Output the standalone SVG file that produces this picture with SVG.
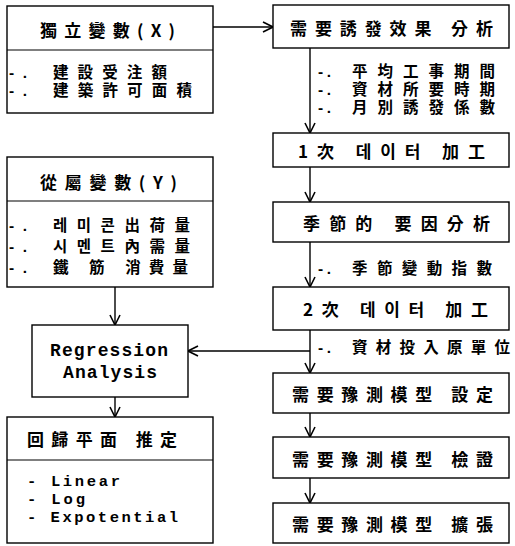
<svg xmlns="http://www.w3.org/2000/svg" width="515" height="546" viewBox="0 0 515 546">
<defs>
<style>
.box{fill:#fff;stroke:#000;stroke-width:1.4}
.div{stroke:#000;stroke-width:1.2}
.ln{fill:none;stroke:#000;stroke-width:1.4}
.cjk{font-family:"Noto Sans CJK KR","Noto Sans CJK TC",sans-serif;font-size:17px;font-weight:bold;fill:#000;dominant-baseline:central}
.item{font-family:"Liberation Sans","Noto Sans CJK KR","Noto Sans CJK TC",sans-serif;font-size:15.5px;font-weight:bold;fill:#000;dominant-baseline:central}
.mono{font-family:"Liberation Mono","DejaVu Sans Mono",monospace;font-size:18px;font-weight:bold;fill:#000;dominant-baseline:central}
.mono-s{font-family:"Liberation Mono","DejaVu Sans Mono",monospace;font-size:15.5px;font-weight:bold;fill:#000;dominant-baseline:central}
</style>
<marker id="ah" viewBox="0 0 12 12" refX="11" refY="6" markerWidth="12" markerHeight="12" orient="auto" markerUnits="userSpaceOnUse">
<path d="M1,1 L11,6 L1,11" fill="none" stroke="#000" stroke-width="1.6"/>
</marker>
</defs>
<rect width="515" height="546" fill="#fff"/>

<g id="connectors">
<line class="ln" x1="213" y1="27" x2="273" y2="27" marker-end="url(#ah)"/>
<line class="ln" x1="115" y1="287" x2="115" y2="325" marker-end="url(#ah)"/>
<line class="ln" x1="115" y1="397" x2="115" y2="417" marker-end="url(#ah)"/>
<line class="ln" x1="310" y1="48" x2="310" y2="133" marker-end="url(#ah)"/>
<line class="ln" x1="310" y1="167" x2="310" y2="202" marker-end="url(#ah)"/>
<line class="ln" x1="310" y1="242" x2="310" y2="287" marker-end="url(#ah)"/>
<line class="ln" x1="310" y1="330" x2="310" y2="373" marker-end="url(#ah)"/>
<line class="ln" x1="310" y1="413" x2="310" y2="437" marker-end="url(#ah)"/>
<line class="ln" x1="310" y1="478" x2="310" y2="503" marker-end="url(#ah)"/>
<line class="ln" x1="310" y1="351" x2="188" y2="351" marker-end="url(#ah)"/>
<text class="item"><tspan x="318" y="71" textLength="13" lengthAdjust="spacing">-.</tspan><tspan x="352" y="71" textLength="143" lengthAdjust="spacing">平均工事期間</tspan><tspan x="318" y="89" textLength="13" lengthAdjust="spacing">-.</tspan><tspan x="352" y="89" textLength="143" lengthAdjust="spacing">資材所要時期</tspan><tspan x="318" y="107" textLength="13" lengthAdjust="spacing">-.</tspan><tspan x="352" y="107" textLength="143" lengthAdjust="spacing">月別誘發係數</tspan></text>
<text class="item"><tspan x="318" y="268" textLength="13" lengthAdjust="spacing">-.</tspan><tspan x="352" y="268" textLength="140" lengthAdjust="spacing">季節變動指數</tspan></text>
<text class="item"><tspan x="318" y="347" textLength="13" lengthAdjust="spacing">-.</tspan><tspan x="352" y="347" textLength="158" lengthAdjust="spacing">資材投入原單位</tspan></text>
</g>

<g id="node-x">
<rect class="box" x="7" y="6" width="206" height="107"/>
<line class="div" x1="7" y1="50" x2="213" y2="50"/>
<text class="cjk" x="40" y="29" textLength="135" lengthAdjust="spacing">獨立變數(X)</text>
<text class="item"><tspan x="9" y="72" textLength="18" lengthAdjust="spacing">-.</tspan><tspan x="53" y="72" textLength="114" lengthAdjust="spacing">建設受注額</tspan><tspan x="9" y="90" textLength="18" lengthAdjust="spacing">-.</tspan><tspan x="53" y="90" textLength="139" lengthAdjust="spacing">建築許可面積</tspan></text>
</g>

<g id="node-y">
<rect class="box" x="7" y="157" width="206" height="130"/>
<line class="div" x1="7" y1="201" x2="213" y2="201"/>
<text class="cjk" x="40" y="181" textLength="137" lengthAdjust="spacing">從屬變數(Y)</text>
<text class="item"><tspan x="9" y="225" textLength="18" lengthAdjust="spacing">-.</tspan><tspan x="53" y="225" textLength="137" lengthAdjust="spacing">레미콘出荷量</tspan><tspan x="9" y="246" textLength="18" lengthAdjust="spacing">-.</tspan><tspan x="53" y="246" textLength="137" lengthAdjust="spacing">시멘트內需量</tspan><tspan x="9" y="267" textLength="18" lengthAdjust="spacing">-.</tspan><tspan x="53" y="267" textLength="135" lengthAdjust="spacing">鐵 筋 消費量</tspan></text>
</g>

<g id="node-regression">
<rect class="box" x="32" y="325" width="156" height="72"/>
<text class="mono"><tspan x="50" y="351" textLength="118" lengthAdjust="spacing">Regression</tspan><tspan x="63" y="373" textLength="94" lengthAdjust="spacing">Analysis</tspan></text>
</g>

<g id="node-plane">
<rect class="box" x="7" y="417" width="206" height="126"/>
<line class="div" x1="7" y1="460" x2="213" y2="460"/>
<text class="cjk" x="27" y="438" textLength="150" lengthAdjust="spacing">回歸平面 推定</text>
<text class="mono-s"><tspan x="27" y="482" textLength="93" lengthAdjust="spacing">- Linear</tspan><tspan x="27" y="500" textLength="58" lengthAdjust="spacing">- Log</tspan><tspan x="27" y="518" textLength="151" lengthAdjust="spacing">- Expotential</tspan></text>
</g>

<g id="node-r1">
<rect class="box" x="273" y="5" width="236" height="43"/>
<text class="cjk" x="290" y="27" textLength="203" lengthAdjust="spacing">需要誘發效果 分析</text>
</g>
<g id="node-r2">
<rect class="box" x="273" y="133" width="236" height="34"/>
<text class="cjk" x="298" y="150" textLength="187" lengthAdjust="spacing">1次 데이터 加工</text>
</g>
<g id="node-r3">
<rect class="box" x="273" y="202" width="236" height="40"/>
<text class="cjk" x="303" y="222" textLength="187" lengthAdjust="spacing">季節的 要因分析</text>
</g>
<g id="node-r4">
<rect class="box" x="273" y="287" width="236" height="43"/>
<text class="cjk" x="303" y="308" textLength="185" lengthAdjust="spacing">2次 데이터 加工</text>
</g>
<g id="node-r5">
<rect class="box" x="273" y="373" width="236" height="40"/>
<text class="cjk" x="292" y="393" textLength="201" lengthAdjust="spacing">需要豫測模型 設定</text>
</g>
<g id="node-r6">
<rect class="box" x="273" y="437" width="236" height="41"/>
<text class="cjk" x="292" y="458" textLength="201" lengthAdjust="spacing">需要豫測模型 檢證</text>
</g>
<g id="node-r7">
<rect class="box" x="273" y="503" width="236" height="40"/>
<text class="cjk" x="292" y="523" textLength="201" lengthAdjust="spacing">需要豫測模型 擴張</text>
</g>
</svg>
